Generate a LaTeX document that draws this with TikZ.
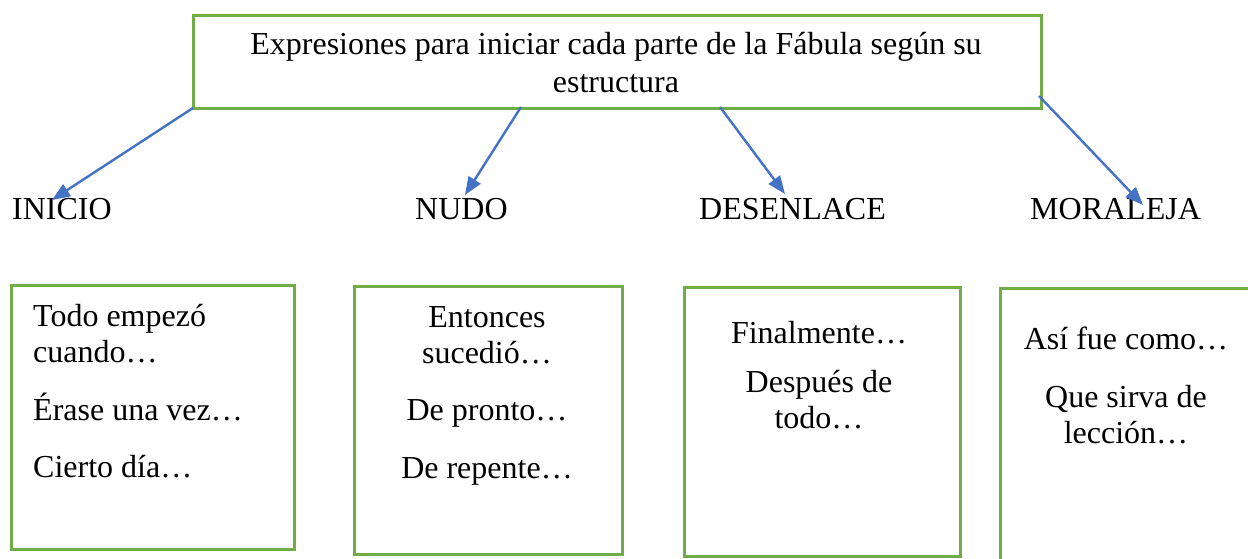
\documentclass[tikz,border=0pt]{standalone}
\usepackage{fontspec}
\setmainfont{Liberation Serif}
\usetikzlibrary{arrows.meta}
\definecolor{boxgreen}{HTML}{70AD47}
\definecolor{arrowblue}{HTML}{4472C4}
\begin{document}
\begin{tikzpicture}[x=1pt,y=-1pt,
  gbox/.style={draw=boxgreen,line width=2.6pt,anchor=north west,inner sep=0pt},
  txt/.style={inner sep=0pt,anchor=base,font=\fontsize{32}{36}\selectfont},
  conn/.style={draw=arrowblue,line width=2.4pt,-{Triangle[length=18pt,width=14pt]}}]
\useasboundingbox (0,0) rectangle (1248,559);
\clip (0,0) rectangle (1248,559);
% boxes
\node[gbox,minimum width=848pt,minimum height=93pt] (title) at (192,14) {};
\node[gbox,minimum width=283pt,minimum height=264pt] (box1) at (10,284) {};
\node[gbox,minimum width=268pt,minimum height=268pt] (box2) at (353,285) {};
\node[gbox,minimum width=276pt,minimum height=269pt] (box3) at (683,286) {};
\node[gbox,minimum width=300pt,minimum height=300pt] (box4) at (999,287) {};
% title text
\node[txt] (t1) at (616,55) {Expresiones para iniciar cada parte de la Fábula según su};
\node[txt] (t2) at (616,93) {estructura};
% labels
\node[txt,anchor=base west] (inicio) at (12,219) {INICIO};
\node[txt,anchor=base west] (nudo) at (415,219) {NUDO};
\node[txt,anchor=base west] (desenlace) at (699,219) {DESENLACE};
\node[txt,anchor=base west] (moraleja) at (1030,219) {MORALEJA};
% box 1
\node[txt,anchor=base west] (b1a) at (33,326) {Todo empezó};
\node[txt,anchor=base west] (b1b) at (33,362) {cuando…};
\node[txt,anchor=base west] (b1c) at (33,420) {Érase una vez…};
\node[txt,anchor=base west] (b1d) at (33,477) {Cierto día…};
% box 2
\node[txt] (b2a) at (487,327) {Entonces};
\node[txt] (b2b) at (487,363) {sucedió…};
\node[txt] (b2c) at (487,420) {De pronto…};
\node[txt] (b2d) at (487,478) {De repente…};
% box 3
\node[txt] (b3a) at (819,343) {Finalmente…};
\node[txt] (b3b) at (819,392) {Después de};
\node[txt] (b3c) at (819,428) {todo…};
% box 4
\node[txt] (b4a) at (1126,349) {Así fue como…};
\node[txt] (b4b) at (1126,407) {Que sirva de};
\node[txt] (b4c) at (1126,443) {lección…};
% connector ends
\coordinate (s1) at (193,108);
\coordinate (s2) at (521,107);
\coordinate (s3) at (720,107);
\coordinate (s4) at (1039,96);
\coordinate (e1) at (52,200);
\coordinate (e2) at (465,195);
\coordinate (e3) at (785,194);
\coordinate (e4) at (1143,205);
\draw[conn] (s1) -- (e1);
\draw[conn] (s2) -- (e2);
\draw[conn] (s3) -- (e3);
\draw[conn] (s4) -- (e4);
\end{tikzpicture}
\end{document}
